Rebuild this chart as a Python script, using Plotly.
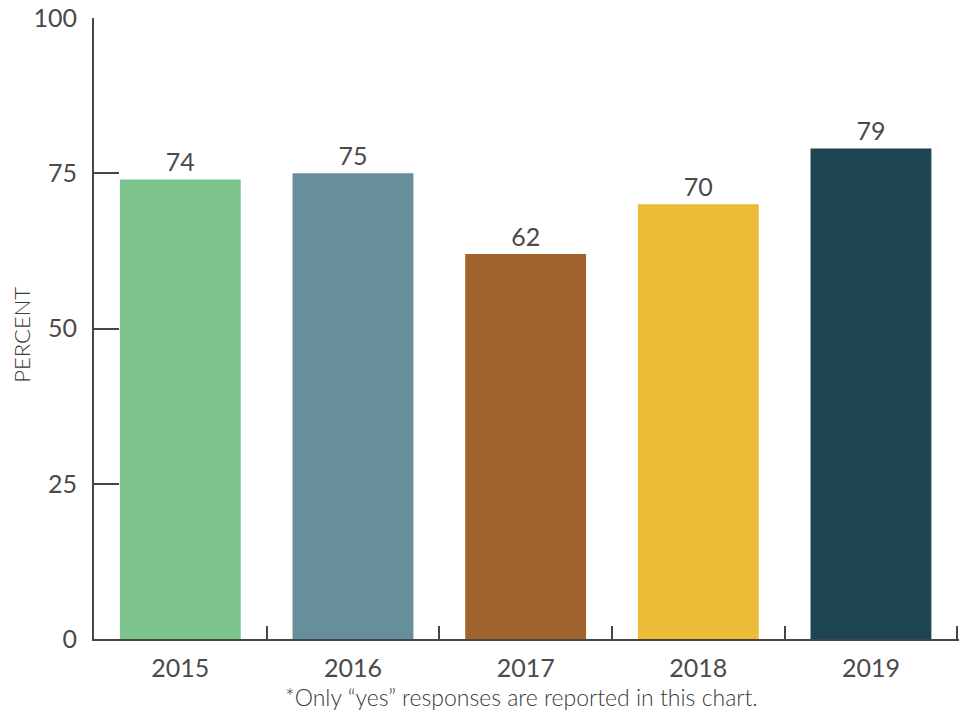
import plotly.graph_objects as go

years = ["2015", "2016", "2017", "2018", "2019"]
values = [74, 75, 62, 70, 79]
colors = ["#7DC38D", "#678E9B", "#A0632E", "#ECBC39", "#1E4652"]
y_ticks = [0, 25, 50, 75, 100]

FONT = "Lato"
TEXT = "#4a4a4a"
AXIS = "#454545"

fig = go.Figure(
    go.Bar(
        x=years,
        y=values,
        marker=dict(color=colors, line=dict(width=0)),
        width=0.7,
        text=[str(v) for v in values],
        textposition="outside",
        textfont=dict(family=FONT, size=25, color=TEXT),
        cliponaxis=False,
        hoverinfo="skip",
    )
)

fig.update_layout(
    width=960,
    height=711,
    margin=dict(l=94, r=1, t=18, b=72),
    paper_bgcolor="white",
    plot_bgcolor="white",
    showlegend=False,
    font=dict(family=FONT, color=TEXT),
    xaxis=dict(
        type="category",
        range=[-0.5, 4.51],
        showline=True,
        linecolor=AXIS,
        linewidth=2,
        ticks="inside",
        tickson="boundaries",
        ticklen=13,
        tickwidth=1.5,
        tickcolor=AXIS,
        showgrid=False,
        zeroline=False,
        tickfont=dict(family=FONT, size=25, color=TEXT),
        ticklabelstandoff=6,
    ),
    yaxis=dict(
        range=[0, 100],
        tickvals=y_ticks,
        ticktext=[str(t) for t in y_ticks],
        showline=True,
        linecolor=AXIS,
        linewidth=2,
        ticks="inside",
        ticklen=25,
        tickwidth=2,
        tickcolor=AXIS,
        showgrid=False,
        zeroline=False,
        tickfont=dict(family=FONT, size=25, color=TEXT),
        ticklabelstandoff=10,
    ),
    annotations=[
        dict(
            text="PERCENT",
            xref="paper", yref="paper",
            x=-0.0832, y=0.49,
            xanchor="center", yanchor="middle",
            textangle=-90,
            showarrow=False,
            font=dict(family=FONT, size=22, color="#3a3a3a", weight=300),
        ),
        dict(
            text="*Only \u201cyes\u201d responses are reported in this chart.",
            xref="paper", yref="paper",
            x=0.494, y=-0.0935,
            xanchor="center", yanchor="middle",
            showarrow=False,
            font=dict(family=FONT, size=23, color="#3a3a3a", weight=300),
        ),
    ],
)

fig.write_html("out.html")
